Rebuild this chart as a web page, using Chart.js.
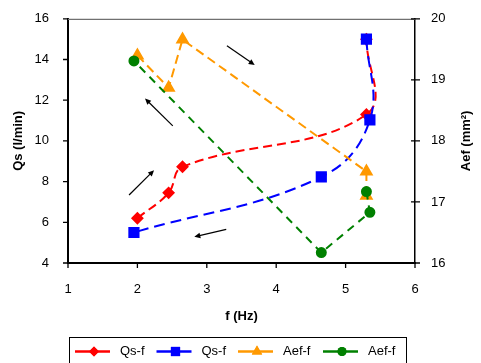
<!DOCTYPE html>
<html><head><meta charset="utf-8">
<script src="https://cdn.jsdelivr.net/npm/chart.js@4/dist/chart.umd.min.js"></script>
<style>html,body{margin:0;padding:0;background:#fff}#wrap{width:481px;height:363px;position:relative}</style>
</head><body><div id="wrap"><canvas id="c" width="481" height="363"></canvas></div>
<script>
// ---- data ----
const seriesLabels = ['Qs-f', 'Qs-f', 'Aef-f', 'Aef-f'];
// red: Qs rising branch
const redF   = [2.0, 2.45, 2.65, 5.3, 5.3];
const redQs  = [6.2, 7.45, 8.73, 11.3, 15.0];
// blue: Qs falling branch
const blueF  = [5.3, 5.35, 4.65, 1.95];
const blueQs = [15.0, 11.03, 8.23, 5.5];
// orange: Aef branch
const orangeF   = [2.0, 2.45, 2.65, 5.3, 5.3];
const orangeAef = [19.4, 18.87, 19.66, 17.5, 17.1];
// green: Aef branch
const greenF   = [5.3, 5.35, 4.65, 1.95];
const greenAef = [17.17, 16.83, 16.17, 19.31];
// axis ticks
const xTicks  = [1, 2, 3, 4, 5, 6];
const yTicks  = [4, 6, 8, 10, 12, 14, 16];
const y2Ticks = [16, 17, 18, 19, 20];
// direction arrows (in f / Qs units)
const arrowTailF  = [1.88, 2.51, 3.29, 3.28];
const arrowTailQs = [7.34, 10.74, 14.67, 5.65];
const arrowHeadF  = [2.24, 2.11, 3.69, 2.82];
const arrowHeadQs = [8.56, 12.08, 13.73, 5.29];

const FONT = "'Liberation Sans', Arial, sans-serif";
const toPts = (xs, ys) => xs.map((x, i) => ({x, y: ys[i]}));

const styles = [
  {color: '#FF0000', pointStyle: 'rectRot', radius: 5, dash: [9, 5], tension: 0.4, axis: 'y', order: 4},
  {color: '#0000FF', pointStyle: 'rect', radius: 6.5, dash: [11, 6], tension: 0.4, axis: 'y', order: 3},
  {color: '#FF9900', pointStyle: 'triangle', radius: 6, dash: [9, 5], tension: 0, axis: 'y2', order: 2},
  {color: '#008000', pointStyle: 'circle', radius: 4.5, dash: [8, 6], tension: 0, axis: 'y2', order: 1}
];
const dataSets = [toPts(redF, redQs), toPts(blueF, blueQs), toPts(orangeF, orangeAef), toPts(greenF, greenAef)];

const datasets = dataSets.map((d, i) => ({
  label: seriesLabels[i], data: d, fill: false,
  showLine: false,
  borderColor: styles[i].color, backgroundColor: styles[i].color,
  borderWidth: 2, borderDash: styles[i].dash,
  pointStyle: styles[i].pointStyle, pointRadius: styles[i].radius,
  tension: styles[i].tension, yAxisID: styles[i].axis, order: styles[i].order
}));

// strokes each dataset's line path (computed by Chart.js) with an explicit dash, before its points
const dashedLines = {
  id: 'dashedLines',
  beforeDatasetDraw(chart, args) {
    const meta = args.meta, line = meta.dataset, ds = chart.data.datasets[args.index];
    if (!line) return;
    const ctx = chart.ctx;
    if (typeof line.updateControlPoints === 'function') line.updateControlPoints(chart.chartArea, meta.iScale.axis);
    ctx.save();
    ctx.beginPath();
    if (typeof line.path === 'function') {
      line.path(ctx);
    } else {
      meta.data.forEach((p, j) => j ? ctx.lineTo(p.x, p.y) : ctx.moveTo(p.x, p.y));
    }
    ctx.setLineDash(Array.from(ds.borderDash));
    ctx.lineDashOffset = 0;
    ctx.lineWidth = ds.borderWidth;
    ctx.strokeStyle = ds.borderColor;
    ctx.lineCap = 'butt';
    ctx.lineJoin = 'round';
    ctx.stroke();
    ctx.restore();
  }
};

const decor = {
  id: 'decor',
  afterDraw(chart) {
    const ctx = chart.ctx, ca = chart.chartArea;
    const sx = chart.scales.x, sy = chart.scales.y, sy2 = chart.scales.y2;
    ctx.save();
    ctx.setLineDash([]);
    // top border of plot area
    ctx.strokeStyle = '#707070'; ctx.lineWidth = 1.2;
    ctx.beginPath(); ctx.moveTo(ca.left, ca.top + 0.5); ctx.lineTo(ca.right, ca.top + 0.5); ctx.stroke();
    // tick marks
    ctx.strokeStyle = '#000'; ctx.lineWidth = 1.3;
    ctx.beginPath();
    xTicks.forEach(v => { const p = sx.getPixelForValue(v); ctx.moveTo(p, ca.bottom); ctx.lineTo(p, ca.bottom + 5); });
    yTicks.forEach(v => { const p = sy.getPixelForValue(v); ctx.moveTo(ca.left - 5, p); ctx.lineTo(ca.left, p); });
    y2Ticks.forEach(v => { const p = sy2.getPixelForValue(v); ctx.moveTo(ca.right - 4, p); ctx.lineTo(ca.right + 5, p); });
    ctx.stroke();
    // arrows
    ctx.strokeStyle = '#000'; ctx.fillStyle = '#000'; ctx.lineWidth = 1.2;
    arrowTailF.forEach((_, i) => {
      const x1 = sx.getPixelForValue(arrowTailF[i]), y1 = sy.getPixelForValue(arrowTailQs[i]);
      const x2 = sx.getPixelForValue(arrowHeadF[i]), y2 = sy.getPixelForValue(arrowHeadQs[i]);
      const a = Math.atan2(y2 - y1, x2 - x1), L = 6, W = 2.8;
      ctx.beginPath(); ctx.moveTo(x1, y1); ctx.lineTo(x2 - L * 0.7 * Math.cos(a), y2 - L * 0.7 * Math.sin(a)); ctx.stroke();
      ctx.beginPath();
      ctx.moveTo(x2, y2);
      ctx.lineTo(x2 - L * Math.cos(a) + W * Math.sin(a), y2 - L * Math.sin(a) - W * Math.cos(a));
      ctx.lineTo(x2 - L * Math.cos(a) - W * Math.sin(a), y2 - L * Math.sin(a) + W * Math.cos(a));
      ctx.closePath(); ctx.fill();
    });
    // axis titles
    ctx.fillStyle = '#000';
    ctx.font = 'bold 13px ' + FONT;
    ctx.textAlign = 'center'; ctx.textBaseline = 'middle';
    ctx.fillText('f (Hz)', (ca.left + ca.right) / 2, 316);
    ctx.save(); ctx.translate(18, (ca.top + ca.bottom) / 2); ctx.rotate(-Math.PI / 2);
    ctx.fillText('Qs (l/min)', 0, 0); ctx.restore();
    ctx.save(); ctx.translate(466, (ca.top + ca.bottom) / 2); ctx.rotate(-Math.PI / 2);
    ctx.fillText('Aef (mm\u00B2)', 0, 0); ctx.restore();
    // legend
    ctx.strokeStyle = '#000'; ctx.lineWidth = 1;
    ctx.strokeRect(69.5, 337.5, 337, 40);
    const itemX = [75, 156.5, 238, 323];
    const cy = 351.5;
    ctx.font = '13px ' + FONT; ctx.textAlign = 'left';
    chart.data.datasets.forEach((ds, i) => {
      const x = itemX[i];
      ctx.strokeStyle = ds.borderColor; ctx.lineWidth = 2.5;
      ctx.beginPath(); ctx.moveTo(x, cy); ctx.lineTo(x + 35, cy); ctx.stroke();
      ctx.fillStyle = ds.borderColor;
      Chart.helpers.drawPoint(ctx, {pointStyle: ds.pointStyle, radius: ds.pointRadius, rotation: 0, borderWidth: 0}, x + 19, cy);
      ctx.fill();
      ctx.fillStyle = '#000';
      ctx.fillText(ds.label, x + 45, cy);
    });
    ctx.restore();
  }
};

new Chart(document.getElementById('c'), {
  type: 'line',
  data: {datasets},
  options: {
    responsive: false,
    animation: false,
    layout: {padding: {top: 16}},
    plugins: {legend: {display: false}, tooltip: {enabled: false}},
    scales: {
      x: {
        type: 'linear', min: 1, max: 6,
        afterBuildTicks: s => { s.ticks = xTicks.map(v => ({value: v})); },
        afterFit: s => { s.height = 100; },
        grid: {display: false},
        border: {display: true, color: '#000', width: 2},
        ticks: {padding: 11, color: '#000', font: {family: FONT, size: 13}}
      },
      y: {
        type: 'linear', position: 'left', min: 4, max: 16,
        afterBuildTicks: s => { s.ticks = yTicks.map(v => ({value: v})); },
        afterFit: s => { s.width = 68; },
        grid: {display: false},
        border: {display: true, color: '#000', width: 2},
        ticks: {padding: 11, color: '#000', font: {family: FONT, size: 13}}
      },
      y2: {
        type: 'linear', position: 'right', min: 16, max: 20,
        afterBuildTicks: s => { s.ticks = y2Ticks.map(v => ({value: v})); },
        afterFit: s => { s.width = 66; },
        grid: {display: false},
        border: {display: true, color: '#000', width: 1.5},
        ticks: {padding: 8, color: '#000', font: {family: FONT, size: 13}}
      }
    }
  },
  plugins: [dashedLines, decor]
});
</script>
</body></html>
